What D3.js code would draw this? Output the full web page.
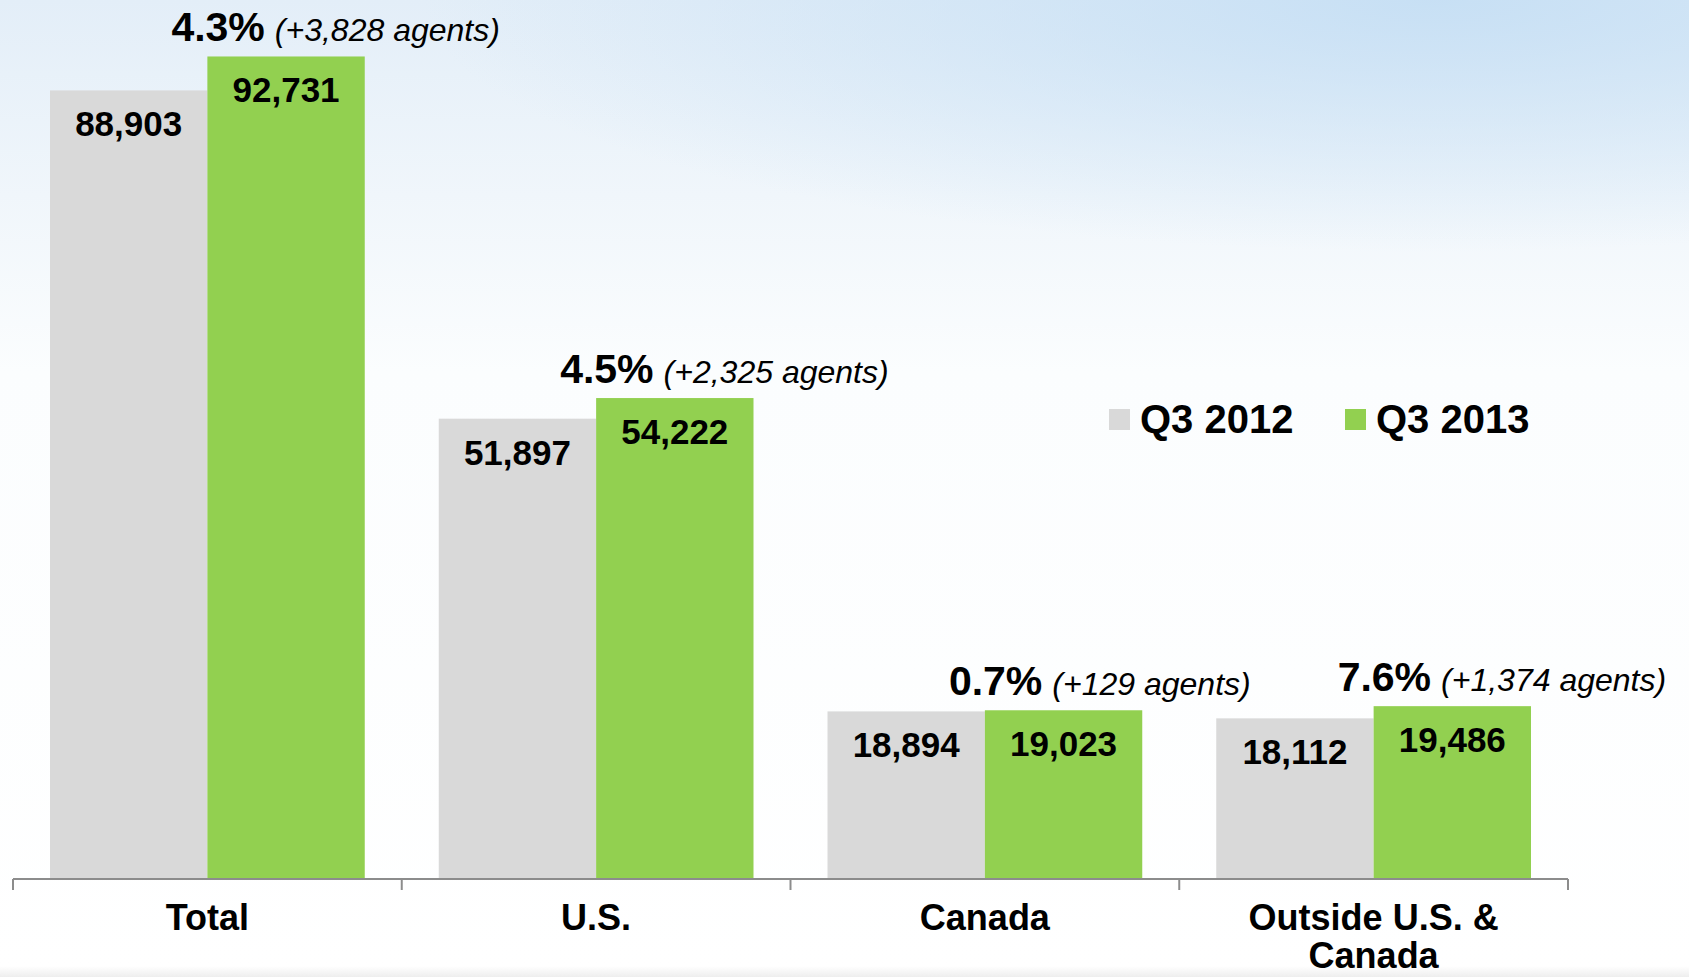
<!DOCTYPE html>
<html>
<head>
<meta charset="utf-8">
<script src="https://cdn.jsdelivr.net/npm/d3@7/dist/d3.min.js"></script>
<style>
  body { margin: 0; background: #fff; }
  svg { display: block; font-family: "Liberation Sans", Arial, sans-serif; }
</style>
</head>
<body>
<div id="chart"></div>
<script>
var svgWidth = 1689;
var svgHeight = 977;

// chart data
var categories = ["Total", "U.S.", "Canada", "Outside U.S. & Canada"];
var seriesNames = ["Q3 2012", "Q3 2013"];
var q32012 = [88903, 51897, 18894, 18112];
var q32013 = [92731, 54222, 19023, 19486];
var growthPct = ["4.3%", "4.5%", "0.7%", "7.6%"];
var growthAgents = ["(+3,828 agents)", "(+2,325 agents)", "(+129 agents)", "(+1,374 agents)"];

var colors = { "Q3 2012": "#d9d9d9", "Q3 2013": "#92d050" };

var baseY = 879;
var axisLeftX = 13;
var axisRightX = 1568;

var svg = d3.select("#chart")
  .append("svg")
  .attr("width", svgWidth)
  .attr("height", svgHeight);

// sky-ish background
var defs = svg.append("defs");
var sky = defs.append("linearGradient")
  .attr("id", "sky")
  .attr("x1", 0).attr("y1", 0).attr("x2", 0).attr("y2", 1);
sky.append("stop").attr("offset", "0%").attr("stop-color", "#e3eef8");
sky.append("stop").attr("offset", "20%").attr("stop-color", "#f0f6fb");
sky.append("stop").attr("offset", "38%").attr("stop-color", "#fbfdfe");
sky.append("stop").attr("offset", "100%").attr("stop-color", "#ffffff");

var blue = defs.append("radialGradient")
  .attr("id", "blueCorner")
  .attr("cx", "85%").attr("cy", "0%").attr("r", "60%");
blue.append("stop").attr("offset", "0%").attr("stop-color", "#c4def4").attr("stop-opacity", 0.9);
blue.append("stop").attr("offset", "100%").attr("stop-color", "#c4def4").attr("stop-opacity", 0);

var bottomFade = defs.append("linearGradient")
  .attr("id", "bottomFade")
  .attr("x1", 0).attr("y1", 0).attr("x2", 0).attr("y2", 1);
bottomFade.append("stop").attr("offset", "0%").attr("stop-color", "#ffffff");
bottomFade.append("stop").attr("offset", "100%").attr("stop-color", "#eeeeee");

svg.append("rect")
  .attr("width", svgWidth)
  .attr("height", svgHeight)
  .attr("fill", "url(#sky)");

svg.append("rect")
  .attr("width", svgWidth)
  .attr("height", 420)
  .attr("fill", "url(#blueCorner)");

svg.append("rect")
  .attr("y", 966)
  .attr("width", svgWidth)
  .attr("height", 11)
  .attr("fill", "url(#bottomFade)");

// scales
var x0 = d3.scaleBand()
  .domain(categories)
  .range([axisLeftX, axisRightX])
  .padding(0);

var x1 = d3.scaleBand()
  .domain(seriesNames)
  .range([37, x0.bandwidth() - 37])
  .padding(0);

var y = d3.scaleLinear()
  .domain([0, 100000])
  .range([baseY, baseY - 887]);

var rows = categories.map(function(c, i) {
  return {
    category: c,
    values: [
      { series: "Q3 2012", value: q32012[i] },
      { series: "Q3 2013", value: q32013[i] }
    ],
    pct: growthPct[i],
    agents: growthAgents[i]
  };
});

var groups = svg.selectAll(".group")
  .data(rows)
  .enter()
  .append("g")
  .attr("class", "group")
  .attr("transform", d => `translate(${x0(d.category)}, 0)`);

// bars
groups.selectAll("rect")
  .data(d => d.values)
  .enter()
  .append("rect")
  .attr("x", d => x1(d.series))
  .attr("y", d => y(d.value))
  .attr("width", x1.bandwidth())
  .attr("height", d => baseY - y(d.value))
  .attr("fill", d => colors[d.series]);

// value labels inside bar tops
groups.selectAll(".valueLabel")
  .data(d => d.values)
  .enter()
  .append("text")
  .attr("class", "valueLabel")
  .attr("x", d => x1(d.series) + x1.bandwidth() / 2)
  .attr("y", d => y(d.value) + 46)
  .attr("text-anchor", "middle")
  .attr("font-size", 35)
  .attr("font-weight", "bold")
  .attr("fill", "#000")
  .text(d => d3.format(",")(d.value));

// growth annotation above the green bar
var notes = groups.append("text")
  .attr("x", x1("Q3 2013") - 36)
  .attr("y", d => y(d.values[1].value) - 15)
  .attr("fill", "#000");

notes.append("tspan")
  .attr("font-size", 41)
  .attr("font-weight", "bold")
  .text(d => d.pct);

notes.append("tspan")
  .attr("font-size", 32)
  .attr("font-style", "italic")
  .attr("dx", 10)
  .text(d => d.agents);

// x axis: baseline with ticks at the category boundaries
var axisG = svg.append("g").attr("class", "x-axis");

axisG.append("line")
  .attr("x1", axisLeftX)
  .attr("x2", axisRightX)
  .attr("y1", baseY)
  .attr("y2", baseY)
  .attr("stroke", "#8c8c8c")
  .attr("stroke-width", 2);

var tickPos = categories.map(c => x0(c)).concat([axisRightX]);
axisG.selectAll(".tick")
  .data(tickPos)
  .enter()
  .append("line")
  .attr("class", "tick")
  .attr("x1", d => d)
  .attr("x2", d => d)
  .attr("y1", baseY)
  .attr("y2", baseY + 11)
  .attr("stroke", "#8c8c8c")
  .attr("stroke-width", 2);

// category labels (wrap the long one)
var catLines = {
  "Total": ["Total"],
  "U.S.": ["U.S."],
  "Canada": ["Canada"],
  "Outside U.S. & Canada": ["Outside U.S. &", "Canada"]
};

var catText = axisG.selectAll(".catLabel")
  .data(categories)
  .enter()
  .append("text")
  .attr("class", "catLabel")
  .attr("text-anchor", "middle")
  .attr("font-size", 36)
  .attr("font-weight", "bold")
  .attr("fill", "#000");

catText.selectAll("tspan")
  .data(d => catLines[d].map(t => ({ cat: d, text: t })))
  .enter()
  .append("tspan")
  .attr("x", d => x0(d.cat) + x0.bandwidth() / 2)
  .attr("y", (d, i) => 930 + i * 38)
  .text(d => d.text);

// legend
var legendX = [1109, 1345];
var legend = svg.selectAll(".legend")
  .data(seriesNames)
  .enter()
  .append("g")
  .attr("class", "legend")
  .attr("transform", (d, i) => `translate(${legendX[i]}, 409)`);

legend.append("rect")
  .attr("width", 21)
  .attr("height", 21)
  .attr("fill", d => colors[d]);

legend.append("text")
  .attr("x", 31)
  .attr("y", 24)
  .attr("font-size", 40)
  .attr("font-weight", "bold")
  .attr("fill", "#000")
  .text(d => d);
</script>
</body>
</html>
